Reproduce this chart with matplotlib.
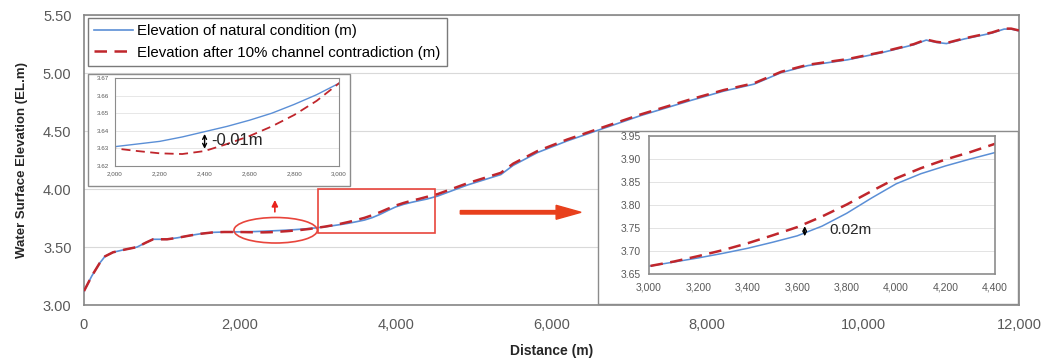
import numpy as np
import matplotlib.pyplot as plt
from matplotlib.patches import Ellipse, Rectangle, FancyArrow
from matplotlib.ticker import FuncFormatter, MultipleLocator

plt.rcParams['font.family'] = ['Liberation Sans', 'DejaVu Sans']

# Distance along the channel (m)
distance = [0, 100, 200, 270, 373, 500, 681, 800, 887, 1067, 1200, 1362, 1500, 1660,
            1800, 2000, 2100, 2200, 2300, 2400, 2500, 2600, 2700, 2800, 2900,
            3000, 3100, 3200, 3300, 3400, 3500, 3600, 3700, 3800, 3900, 4000, 4100,
            4200, 4300, 4400, 4540, 4920,
            5350, 5510, 5820, 6200, 6630, 7150, 7790, 8210, 8600, 8950, 9290, 9800,
            10230, 10650, 10810, 10940, 11070, 11300, 11650, 11810, 11900, 12000]

# Elevation of natural condition (m)
natural = [3.12, 3.25, 3.36, 3.42, 3.455, 3.475, 3.50, 3.54, 3.567, 3.567, 3.58, 3.60,
           3.615, 3.627, 3.630, 3.631, 3.6325, 3.634, 3.6365, 3.6395, 3.6425, 3.646,
           3.650, 3.655, 3.6605,
           3.667, 3.676, 3.685, 3.695, 3.706, 3.719, 3.733, 3.754, 3.782, 3.815, 3.846,
           3.868, 3.885, 3.900, 3.914, 3.940, 4.035,
           4.125, 4.205, 4.315, 4.415, 4.515, 4.635, 4.765,
           4.845, 4.905, 5.005, 5.065, 5.115, 5.175, 5.245, 5.285, 5.265, 5.255, 5.295,
           5.345, 5.380, 5.380, 5.365]

# Elevation after 10% channel contradiction (m)
contracted = [3.12, 3.25, 3.36, 3.42, 3.455, 3.475, 3.50, 3.54, 3.567, 3.567, 3.58, 3.60,
              3.615, 3.627, 3.630, 3.630, 3.6285, 3.6272, 3.6268, 3.6285, 3.6325, 3.637,
              3.6425, 3.649, 3.657,
              3.667, 3.677, 3.689, 3.702, 3.717, 3.734, 3.752, 3.775, 3.801, 3.830, 3.858,
              3.880, 3.899, 3.915, 3.933, 3.957, 4.050,
              4.140, 4.220, 4.328, 4.427, 4.526, 4.645,
              4.775, 4.854, 4.913, 5.012, 5.072, 5.121, 5.180, 5.250, 5.290, 5.270, 5.260,
              5.300, 5.350, 5.384, 5.384, 5.368]

blue = '#5b8fd6'
red = '#c0262c'
mark = '#e8453c'
grey = '#595959'

fig = plt.figure(figsize=(10.47, 3.61), dpi=100)
ax = fig.add_axes([0.0802, 0.155, 0.893, 0.803])

ax.plot(distance, natural, color=blue, lw=1.2, label='Elevation of natural condition (m)', zorder=3)
ax.plot(distance, contracted, color=red, lw=1.8, ls=(0, (5, 3)),
        label='Elevation after 10% channel contradiction (m)', zorder=4)

ax.set_xlim(0, 12000)
ax.set_ylim(3.0, 5.5)
ax.xaxis.set_major_locator(MultipleLocator(2000))
ax.yaxis.set_major_locator(MultipleLocator(0.5))
ax.xaxis.set_major_formatter(FuncFormatter(lambda v, p: f'{v:,.0f}'))
ax.yaxis.set_major_formatter(FuncFormatter(lambda v, p: f'{v:.2f}'))
ax.tick_params(length=0, labelsize=10.5, colors=grey, pad=9)
ax.grid(axis='y', color='#d9d9d9', lw=0.8)
for s in ax.spines.values():
    s.set_color('#868686')
    s.set_linewidth(1.2)
ax.set_xlabel('Distance (m)', fontsize=10, fontweight='bold', color='#262626', labelpad=9)
ax.set_ylabel('Water Surface Elevation (EL.m)', fontsize=9.5, fontweight='bold',
              color='#262626', labelpad=11)

leg = ax.legend(loc='upper left', bbox_to_anchor=(0.004, 0.99), borderaxespad=0,
                fontsize=10.8, frameon=True, fancybox=False, handlelength=2.6,
                handletextpad=0.3, borderpad=0.4, labelspacing=0.5)
leg.get_frame().set_edgecolor('#595959')
leg.get_frame().set_linewidth(1.0)
leg.set_zorder(10)

# markers on the main chart
ax.add_patch(Ellipse((2460, 3.645), 1070, 0.22, fill=False, ec=mark, lw=1.2, zorder=5))
ax.add_patch(Rectangle((3000, 3.62), 1500, 0.38, fill=False, ec=mark, lw=1.2, zorder=5))
ax.annotate('', xy=(2450, 3.93), xytext=(2450, 3.78),
            arrowprops=dict(arrowstyle='-|>', color='#e8231c', lw=1.2, mutation_scale=9))
ax.add_patch(FancyArrow(4830, 3.80, 1230, 0, width=0.03, head_width=0.12,
                        head_length=320, color='#e8401c', length_includes_head=False, zorder=5))

# inset backgrounds
for box in [(88, 74, 350, 186), (598, 131, 1018, 304)]:
    x0, y0, x1, y1 = box
    fig.patches.append(Rectangle((x0 / 1047, 1 - y1 / 361), (x1 - x0) / 1047, (y1 - y0) / 361,
                                 transform=fig.transFigure, fc='white', ec='#8c8c8c',
                                 lw=1.0, zorder=2))

# left inset: 2,000 - 3,000 m
ax1 = fig.add_axes([115 / 1047, 1 - 166 / 361, 224 / 1047, 88 / 361], zorder=3)
ax1.plot(distance, natural, color=blue, lw=1.0)
ax1.plot(distance, contracted, color=red, lw=1.3, ls=(0, (5, 3)))
ax1.set_xlim(2000, 3000)
ax1.set_ylim(3.62, 3.67)
ax1.xaxis.set_major_locator(MultipleLocator(200))
ax1.yaxis.set_major_locator(MultipleLocator(0.01))
ax1.xaxis.set_major_formatter(FuncFormatter(lambda v, p: f'{v:,.0f}'))
ax1.yaxis.set_major_formatter(FuncFormatter(lambda v, p: f'{v:.2f}'))
ax1.tick_params(length=0, labelsize=4.5, colors=grey, pad=4)
ax1.grid(axis='y', color='#e3e3e3', lw=0.6)
for s in ax1.spines.values():
    s.set_color('#8c8c8c')
ax1.annotate('', xy=(2400, 3.6398), xytext=(2400, 3.6282),
             arrowprops=dict(arrowstyle='<->', color='black', lw=1.0, mutation_scale=7))
ax1.text(2430, 3.6345, '-0.01m', fontsize=12, va='center', color='#262626')

# right inset: 3,000 - 4,400 m
ax2 = fig.add_axes([649 / 1047, 1 - 274 / 361, 346 / 1047, 138 / 361], zorder=3)
ax2.plot(distance, natural, color=blue, lw=1.1)
ax2.plot(distance, contracted, color=red, lw=1.8, ls=(0, (5, 3)))
ax2.set_xlim(3000, 4400)
ax2.set_ylim(3.65, 3.95)
ax2.xaxis.set_major_locator(MultipleLocator(200))
ax2.yaxis.set_major_locator(MultipleLocator(0.05))
ax2.xaxis.set_major_formatter(FuncFormatter(lambda v, p: f'{v:,.0f}'))
ax2.yaxis.set_major_formatter(FuncFormatter(lambda v, p: f'{v:.2f}'))
ax2.tick_params(length=0, labelsize=7.5, colors=grey, pad=6)
ax2.grid(axis='y', color='#e3e3e3', lw=0.7)
for s in ax2.spines.values():
    s.set_color('#8c8c8c')
    s.set_linewidth(1.2)
ax2.annotate('', xy=(3630, 3.760), xytext=(3630, 3.726),
             arrowprops=dict(arrowstyle='<->', color='black', lw=1.0, mutation_scale=6))
ax2.text(3730, 3.745, '0.02m', fontsize=11, va='center', color='#262626')

fig.savefig('out.png', dpi=100)
